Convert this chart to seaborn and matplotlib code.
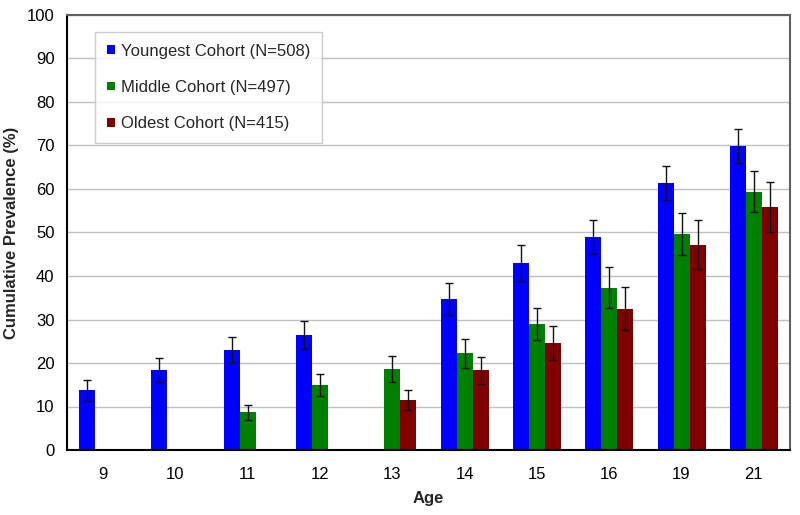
import matplotlib
matplotlib.use("Agg")
import matplotlib.pyplot as plt
import seaborn as sns
import pandas as pd
import numpy as np
from matplotlib.patches import Patch

ages = ["9", "10", "11", "12", "13", "14", "15", "16", "19", "21"]
cohorts = ["Youngest Cohort (N=508)", "Middle Cohort (N=497)", "Oldest Cohort (N=415)"]
colors = ["#0000FF", "#008000", "#800000"]

youngest = [13.7, 18.4, 23.0, 26.4, None, 34.7, 43.0, 49.0, 61.4, 69.9]
youngest_err = [2.4, 2.7, 2.9, 3.2, None, 3.7, 4.1, 3.9, 4.0, 4.0]
middle = [None, None, 8.7, 15.0, 18.7, 22.2, 29.0, 37.3, 49.6, 59.4]
middle_err = [None, None, 1.7, 2.5, 3.0, 3.3, 3.7, 4.7, 4.8, 4.7]
oldest = [None, None, None, None, 11.5, 18.3, 24.7, 32.5, 47.2, 55.8]
oldest_err = [None, None, None, None, 2.2, 3.1, 3.9, 4.9, 5.7, 5.7]

rows = []
for coh, vals, errs in zip(cohorts, [youngest, middle, oldest], [youngest_err, middle_err, oldest_err]):
    for a, v, e in zip(ages, vals, errs):
        if v is not None:
            rows.append({"Age": a, "Cohort": coh, "Value": v, "Err": e})
df = pd.DataFrame(rows)

sns.set_theme(style="white")
plt.rcParams["font.family"] = ["Liberation Sans", "DejaVu Sans"]

fig = plt.figure(figsize=(8, 5.15), dpi=100)
ax = fig.add_axes([67/800, 65/515, 723/800, 435/515])

sns.barplot(data=df, x="Age", y="Value", hue="Cohort", order=ages, hue_order=cohorts,
            palette=colors, width=0.664, errorbar=None, saturation=1, ax=ax,
            edgecolor="none", linewidth=0, legend=False, zorder=2)

# error bars from data, positioned on the drawn bars
for coh, container in zip(cohorts, ax.containers):
    sub = df[df["Cohort"] == coh]
    lookup = {round(v, 3): e for v, e in zip(sub["Value"], sub["Err"])}
    for bar in container:
        h = bar.get_height()
        if np.isnan(h):
            continue
        xc = bar.get_x() + bar.get_width() / 2
        ax.errorbar(xc, h, yerr=lookup[round(h, 3)], fmt="none", ecolor="#111111",
                    elinewidth=1.0, capsize=2.6, capthick=1.0, zorder=3)

ax.set_ylim(0, 100)
ax.set_xlim(-0.5, len(ages) - 0.5)
ax.set_yticks(np.arange(0, 101, 10))
ax.yaxis.grid(True, color="#c0c0c0", linewidth=1.0, zorder=0)
ax.set_axisbelow(True)

ax.set_xticks(np.arange(len(ages)))
ax.set_xticklabels(ages)
ax.set_xticks(np.arange(len(ages)) + 0.5, minor=True)
ax.tick_params(axis="x", which="major", length=0, labelsize=12, colors="black", pad=12)
ax.tick_params(axis="x", which="minor", length=5, color="#808080", width=1, direction="out")
ax.tick_params(axis="y", which="major", length=6, color="#808080", width=1, direction="out",
               labelsize=12, colors="black", pad=3)
ax.tick_params(axis="y", colors="#808080", labelcolor="black")

for s in ["left", "bottom"]:
    ax.spines[s].set_color("black")
    ax.spines[s].set_linewidth(1.5)
for s in ["top", "right"]:
    ax.spines[s].set_color("#606060")
    ax.spines[s].set_linewidth(1.5)
    ax.spines[s].set_visible(True)

ax.set_xlabel("Age", fontsize=12, fontweight="bold")
ax.xaxis.set_label_coords(0.5, -41/435)
ax.set_ylabel("Cumulative Prevalence (%)", fontsize=12, fontweight="bold")
ax.yaxis.set_label_coords(-48/723, 0.5)

handles = [Patch(facecolor=c, edgecolor="none") for c in colors]
leg = ax.legend(handles, cohorts, loc="upper left", bbox_to_anchor=(0.0387, 0.961),
                borderaxespad=0, frameon=True, fancybox=False, shadow=False,
                fontsize=12, labelspacing=1.28, handlelength=0.5, handleheight=0.4,
                handletextpad=0.35, borderpad=0.7)
leg.get_frame().set_edgecolor("#c0c0c0")
leg.get_frame().set_linewidth(1.0)
leg.get_frame().set_facecolor("white")

fig.savefig("out.png", dpi=100)
